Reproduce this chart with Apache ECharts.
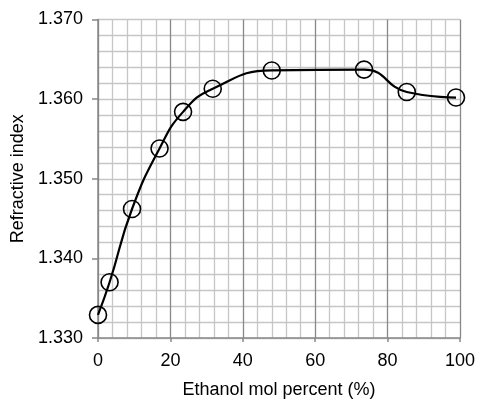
<!DOCTYPE html>
<html>
<head>
<meta charset="utf-8">
<script src="https://cdn.jsdelivr.net/npm/echarts@6/dist/echarts.min.js"></script>
<style>html,body{margin:0;padding:0;background:#fff}#c{width:478px;height:404px}</style>
</head>
<body>
<div id="c"></div>
<script>
var xValues = [0, 3.2, 9.4, 17.0, 23.5, 31.7, 48.0, 73.5, 85.3, 98.9];
var yValues = [1.3329, 1.3370, 1.3462, 1.3538, 1.3584, 1.3613, 1.3636, 1.3637, 1.3609, 1.3602];
var xTitle = 'Ethanol mol percent (%)';
var yTitle = 'Refractive index';

var chart = echarts.init(document.getElementById('c'), null, {renderer: 'canvas'});
var font = 'Liberation Sans, Arial, sans-serif';
chart.setOption({
  animation: false,
  backgroundColor: '#fff',
  grid: {left: 98, right: 16, top: 19.5, bottom: 60, containLabel: false},
  xAxis: {
    type: 'value', min: 0, max: 100, interval: 20,
    name: xTitle, nameLocation: 'middle', nameGap: 43,
    nameTextStyle: {fontFamily: font, fontSize: 18, color: '#000'},
    axisLine: {show: true, lineStyle: {color: '#888', width: 1.5}},
    axisTick: {show: true, length: 4, lineStyle: {color: '#888', width: 1.5}},
    axisLabel: {fontFamily: font, fontSize: 18, color: '#000', margin: 14},
    splitLine: {show: true, lineStyle: {color: '#888', width: 1.3}},
    minorTick: {show: false, splitNumber: 5},
    minorSplitLine: {show: true, lineStyle: {color: '#c6c6c6', width: 1.3}}
  },
  yAxis: {
    type: 'value', min: 1.33, max: 1.37, interval: 0.01,
    name: yTitle, nameLocation: 'middle', nameGap: 70,
    nameTextStyle: {fontFamily: font, fontSize: 18, color: '#000'},
    axisLine: {show: true, lineStyle: {color: '#888', width: 1.5}},
    axisTick: {show: true, length: 6, lineStyle: {color: '#888', width: 1.5}},
    axisLabel: {fontFamily: font, fontSize: 18, color: '#000', margin: 15,
      formatter: function (v) { return v.toFixed(3); }},
    splitLine: {show: true, lineStyle: {color: '#c6c6c6', width: 1.3}},
    minorTick: {show: false, splitNumber: 5},
    minorSplitLine: {show: true, lineStyle: {color: '#c6c6c6', width: 1.3}}
  },
  series: [{
    type: 'line',
    data: xValues.map(function (x, i) { return [x, yValues[i]]; }),
    smooth: 0.5,
    symbol: 'circle', symbolSize: 17,
    itemStyle: {color: 'rgba(0,0,0,0)', borderColor: '#000', borderWidth: 1.6},
    lineStyle: {color: '#000', width: 2.2},
    z: 5
  }]
});
</script>
</body>
</html>
